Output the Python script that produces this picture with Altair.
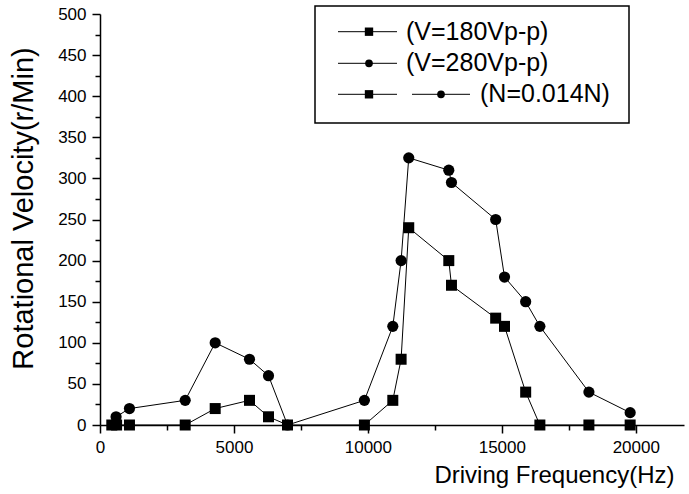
import altair as alt
import pandas as pd

# ---- data ----
freq_180 = [440, 620, 1100, 3180, 4300, 5580, 6290, 7000, 9870, 10930, 11240,
            11525, 13020, 13120, 14770, 15100, 15890, 16420, 18250, 19790]
vel_180 = [0, 0, 0, 0, 20, 30, 10, 0, 0, 30, 80,
           240, 200, 170, 130, 120, 40, 0, 0, 0]

freq_280 = [600, 1100, 3180, 4300, 5580, 6290, 7000, 9870, 10930, 11240,
            11525, 13020, 13120, 14770, 15100, 15890, 16420, 18250, 19790]
vel_280 = [10, 20, 30, 100, 80, 60, 0, 30, 120, 200,
           325, 310, 295, 250, 180, 150, 120, 40, 15]

legend_labels = ["(V=180Vp-p)", "(V=280Vp-p)", "(N=0.014N)"]

x_ticks = list(range(0, 20001, 2500))
y_ticks = list(range(0, 501, 25))

FONT = "Liberation Sans"

df180 = pd.DataFrame({"freq": freq_180, "vel": vel_180})
df280 = pd.DataFrame({"freq": freq_280, "vel": vel_280})

x_axis = alt.Axis(
    values=x_ticks, format="d",
    labelExpr="datum.value % 5000 === 0 ? datum.label : ''",
    tickSize={"condition": {"test": "datum.value % 5000 === 0", "value": 8}, "value": 5},
    tickWidth=1.5, tickColor="black", domainColor="black", domainWidth=1.5,
    labelFont=FONT, labelFontSize=17, labelColor="black", labelPadding=6,
    labelOverlap=False, labelFlush=False, grid=False,
    title="Driving Frequency(Hz)", titleFont=FONT, titleFontSize=24,
    titleFontWeight="normal", titleColor="black",
    titleX=574, titleY=57, titleAlign="right", titleBaseline="alphabetic",
)
y_axis = alt.Axis(
    values=y_ticks,
    labelExpr="datum.value % 50 === 0 ? datum.label : ''",
    tickSize={"condition": {"test": "datum.value % 50 === 0", "value": 8}, "value": 5},
    tickWidth=1.5, tickColor="black", domainColor="black", domainWidth=1.5,
    labelFont=FONT, labelFontSize=17, labelColor="black", labelPadding=6,
    labelOverlap=False, grid=False,
    title="Rotational Velocity(r/Min)", titleFont=FONT, titleFontSize=29,
    titleFontWeight="normal", titleColor="black",
    titleX=-68, titleY=194, titleAlign="center", titleBaseline="alphabetic",
)

X = alt.X("freq:Q", scale=alt.Scale(domain=[0, 21800], nice=False, zero=False), axis=x_axis)
Y = alt.Y("vel:Q", scale=alt.Scale(domain=[0, 500], nice=False), axis=y_axis)

line180 = alt.Chart(df180).mark_line(color="black", strokeWidth=1).encode(x=X, y=Y)
pts180 = alt.Chart(df180).mark_point(shape="square", filled=True, size=121,
                                     color="black", opacity=1).encode(x=X, y=Y)
line280 = alt.Chart(df280).mark_line(color="black", strokeWidth=1).encode(x=X, y=Y)
pts280 = alt.Chart(df280).mark_point(shape="circle", filled=True, size=125,
                                     color="black", opacity=1).encode(x=X, y=Y)

one = pd.DataFrame({"k": [0]})

box = alt.Chart(one).mark_rect(fill="white", stroke="black", strokeWidth=1.5).encode(
    x=alt.value(215), x2=alt.value(529), y=alt.value(-8), y2=alt.value(109))

row_y = [17.7, 49.3, 80.3]
leg_layers = [box]
def seg(x1, x2, y):
    return alt.Chart(one).mark_rule(color="black", strokeWidth=1).encode(
        x=alt.value(x1), x2=alt.value(x2), y=alt.value(y))
def sym(shape, x, y, size):
    return alt.Chart(one).mark_point(shape=shape, filled=True, size=size,
                                     color="black", opacity=1).encode(
        x=alt.value(x), y=alt.value(y))
def txt(t, x, y):
    return alt.Chart(one).mark_text(text=t, font=FONT, fontSize=25, align="left",
                                    baseline="middle", color="black").encode(
        x=alt.value(x), y=alt.value(y))

leg_layers += [seg(238, 297, row_y[0]), sym("square", 269, row_y[0], 70),
               txt(legend_labels[0], 306, row_y[0])]
leg_layers += [seg(238, 297, row_y[1]), sym("circle", 269, row_y[1], 60),
               txt(legend_labels[1], 306, row_y[1])]
leg_layers += [seg(238, 297, row_y[2]), sym("square", 269, row_y[2], 70),
               seg(312, 370, row_y[2]), sym("circle", 341, row_y[2], 60),
               txt(legend_labels[2], 380, row_y[2])]

chart = alt.layer(line180, line280, pts180, pts280, *leg_layers).properties(
    width=584, height=411,
    autosize=alt.AutoSizeParams(type="none"),
    padding={"left": 100, "top": 14, "right": 5, "bottom": 69},
    background="white",
).configure_view(stroke=None)

chart.save("out.html", embed_options={"renderer": "svg", "actions": False})
